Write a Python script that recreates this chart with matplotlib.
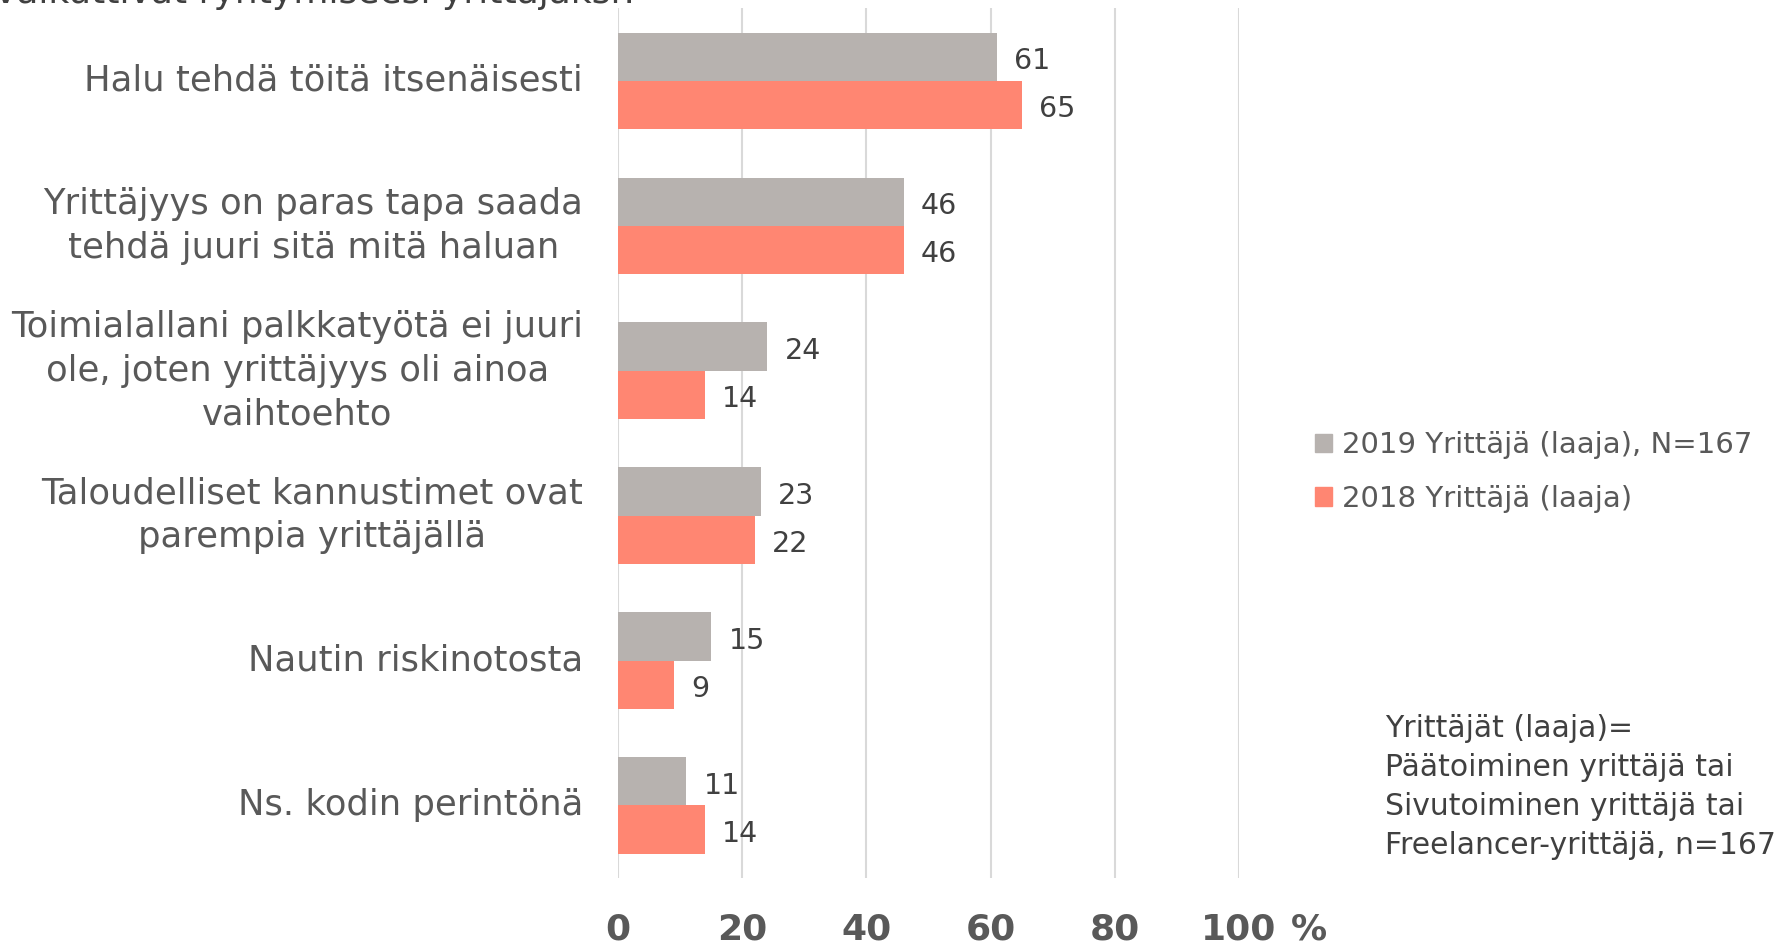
import numpy as np
import matplotlib.pyplot as plt
from matplotlib.patches import Patch

plt.rcParams['font.family'] = ['DejaVu Sans']

categories = [
    "Halu tehdä töitä itsenäisesti",
    "Yrittäjyys on paras tapa saada\ntehdä juuri sitä mitä haluan",
    "Toimialallani palkkatyötä ei juuri\nole, joten yrittäjyys oli ainoa\nvaihtoehto",
    "Taloudelliset kannustimet ovat\nparempia yrittäjällä",
    "Nautin riskinotosta",
    "Ns. kodin perintönä",
]
values_2019 = [61, 46, 24, 23, 15, 11]
values_2018 = [65, 46, 14, 22, 9, 14]
series_names = ["2019 Yrittäjä (laaja), N=167", "2018 Yrittäjä (laaja)"]
x_ticks = [0, 20, 40, 60, 80, 100]

gray = "#b7b2af"
red = "#ff8672"
text_col = "#595959"
label_col = "#404040"

fig = plt.figure(figsize=(17.82, 9.44), dpi=100)
ax = fig.add_axes([0.3468, 0.070, 0.6953 - 0.3468, 0.921])

y = np.arange(len(categories))
h = 1 / 3
ax.barh(y - h / 2, values_2019, height=h, color=gray, zorder=2)
ax.barh(y + h / 2, values_2018, height=h, color=red, zorder=2)

# value labels, nudged down a touch so the digits look centred on the bar
for yi, v in zip(y, values_2019):
    ax.text(v + 2.8, yi - h / 2 + 0.03, str(v), va='center', ha='left', fontsize=20.5, color=label_col)
for yi, v in zip(y, values_2018):
    ax.text(v + 2.8, yi + h / 2 + 0.03, str(v), va='center', ha='left', fontsize=20.5, color=label_col)

ax.set_xlim(0, 100)
ax.set_ylim(len(categories) - 0.5, -0.5)
ax.set_xticks(x_ticks)
ax.set_xticklabels([])
ax.tick_params(axis='x', length=0)
ax.set_yticks([])
ax.grid(axis='x', color='#d9d9d9', linewidth=1.5, zorder=0)
for s in ax.spines.values():
    s.set_visible(False)

# x tick labels placed by hand so they sit where the reference has them
xt = ax.get_xaxis_transform()
for t in x_ticks:
    ax.text(t, -0.071, str(t), transform=xt, ha='center', va='baseline',
            fontsize=26, fontweight='bold', color=text_col)
ax.text(108.3, -0.071, "%", transform=xt, ha='left', va='baseline',
        fontsize=26, fontweight='bold', color=text_col)

for yi, cat in zip(y, categories):
    ax.text(-5.6, yi, cat, ha='right', va='center', multialignment='center',
            fontsize=25.5, color=text_col, linespacing=1.35)

handles = [Patch(color=gray), Patch(color=red)]
fig.legend(handles, series_names, loc='center left', bbox_to_anchor=(0.723, 0.5), frameon=False,
           fontsize=21, labelcolor=text_col, handlelength=0.6, handleheight=0.6,
           handletextpad=0.35, labelspacing=0.86)

fig.text(0.777, 0.166, "Yrittäjät (laaja)=\nPäätoiminen yrittäjä tai\nSivutoiminen yrittäjä tai\nFreelancer-yrittäjä, n=167",
         ha='left', va='center', fontsize=21.5, color='#404040', linespacing=1.43)

# title is cut off at the top edge in the reference
fig.text(-0.003, 1.007, "vaikuttivat ryhtymiseesi yrittäjäksi?", ha='left', va='center',
         fontsize=26, color='#404040')

fig.savefig("out.png", dpi=100)
